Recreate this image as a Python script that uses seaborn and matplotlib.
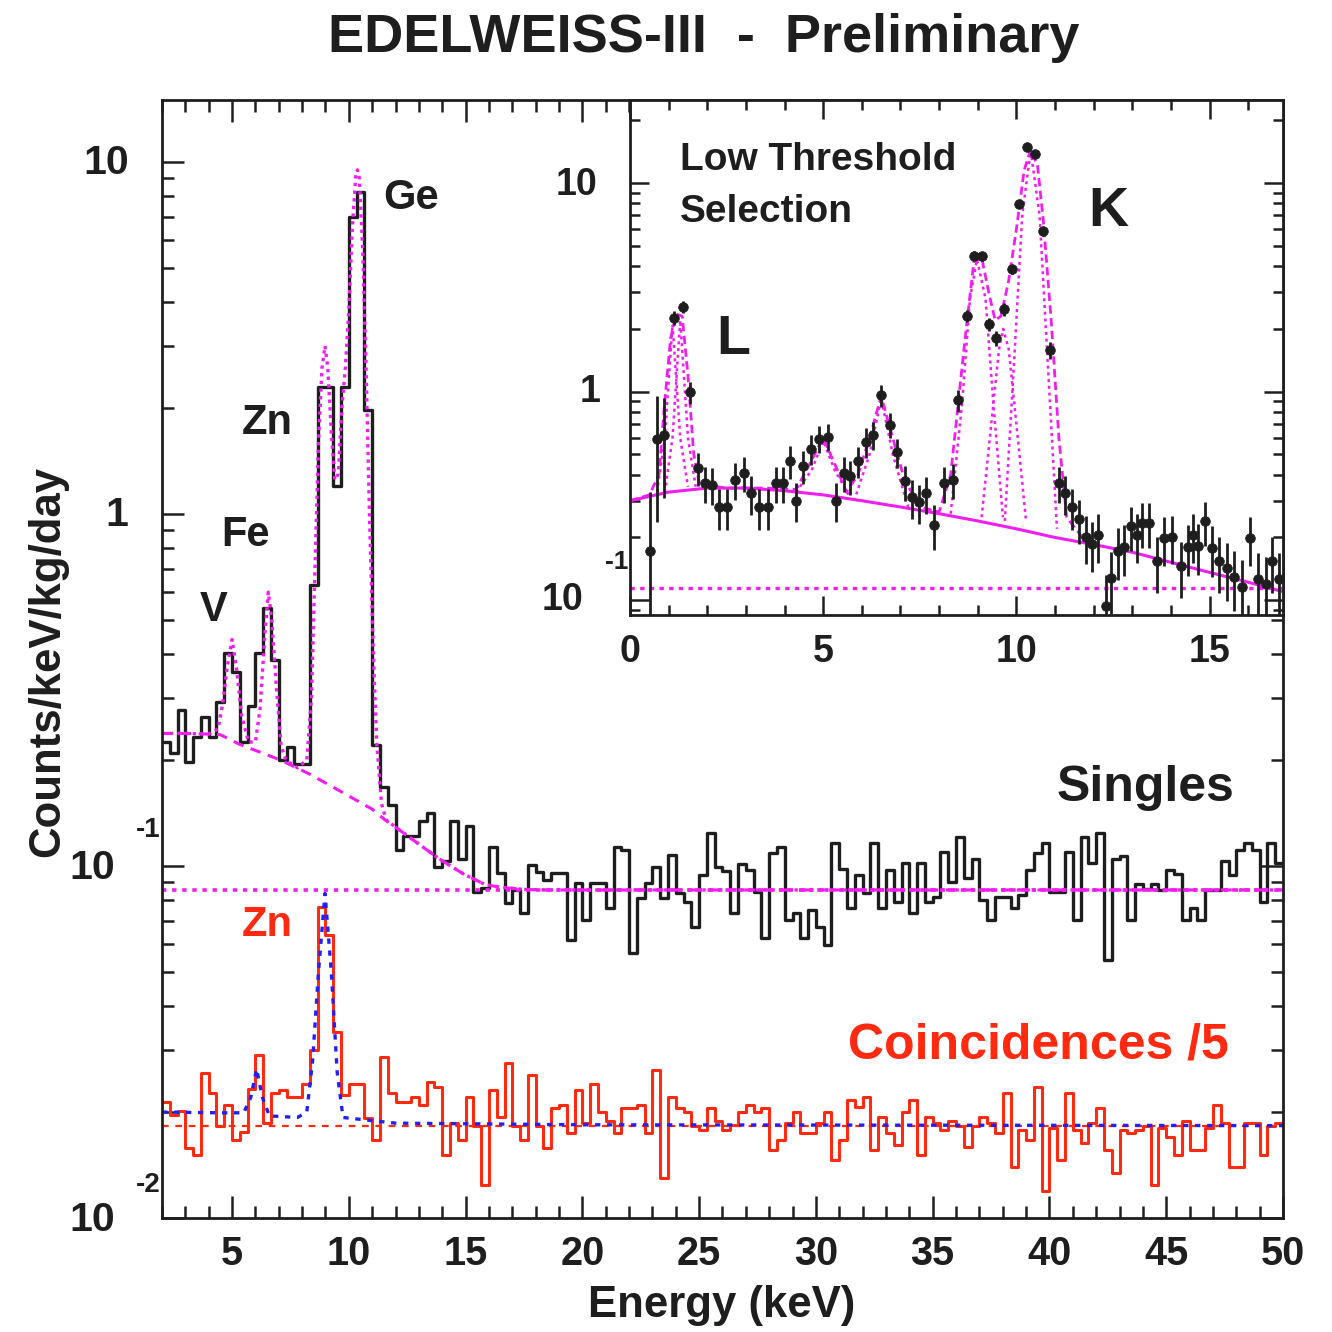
import numpy as np
import matplotlib
matplotlib.use("Agg")
import matplotlib.pyplot as plt
import seaborn as sns
from matplotlib.ticker import MultipleLocator, FixedLocator, LogLocator, NullFormatter

sns.set_style("ticks")
plt.rcParams['font.family'] = ['Liberation Sans', 'DejaVu Sans']
plt.rcParams['font.weight'] = 'bold'

# ---------------- data ----------------
E_MIN = 2.0          # keV, first bin edge of main spectra
BIN_W = 1.0 / 3.0    # keV bin width of main spectra

singles = [
    0.225, 0.21, 0.277, 0.198, 0.233, 0.265, 0.233, 0.293, 0.402, 0.356,
    0.225, 0.284, 0.402, 0.54, 0.385, 0.2, 0.218, 0.195, 0.195, 0.63,
    2.3, 2.3, 1.2, 2.3, 7.0, 8.2, 1.97, 0.221, 0.168, 0.149,
    0.111, 0.122, 0.122, 0.134, 0.141, 0.0995, 0.103, 0.134, 0.105, 0.13,
    0.0845, 0.0864, 0.113, 0.0953, 0.0783, 0.0855, 0.0734, 0.1006, 0.0964, 0.0913,
    0.0953, 0.0953, 0.0617, 0.0893, 0.0703, 0.0893, 0.0893, 0.0758, 0.113, 0.111,
    0.0565, 0.081, 0.0893, 0.0995, 0.081, 0.1074, 0.0836, 0.0792, 0.0673, 0.0943,
    0.1238, 0.0995, 0.097, 0.0734, 0.101, 0.0971, 0.0845, 0.0623, 0.1087, 0.1135,
    0.0703, 0.0734, 0.0623, 0.075, 0.0673, 0.0597, 0.116, 0.098, 0.0758, 0.0943,
    0.0836, 0.116, 0.0758, 0.0971, 0.0792, 0.1017, 0.0734, 0.1017, 0.0792, 0.0815,
    0.1098, 0.090, 0.121, 0.0925, 0.105, 0.080, 0.0703, 0.0815, 0.0815, 0.0758,
    0.0826, 0.0971, 0.1087, 0.116, 0.0845, 0.0845, 0.1098, 0.0703, 0.121, 0.1017,
    0.1238, 0.054, 0.105, 0.107, 0.0703, 0.089, 0.0863, 0.089, 0.0854, 0.0971,
    0.095, 0.0703, 0.0758, 0.0703, 0.0854, 0.0854, 0.103, 0.0943, 0.111, 0.116,
    0.111, 0.079, 0.116, 0.1017,
]

coincidences = [
    0.0214, 0.0196, 0.0201, 0.0158, 0.0151, 0.0258, 0.0226, 0.0182, 0.0209, 0.0167,
    0.0175, 0.0233, 0.029, 0.0186, 0.0226, 0.0231, 0.0221, 0.0221, 0.0241, 0.030,
    0.0766, 0.0637, 0.0338, 0.0223, 0.0241, 0.0241, 0.0192, 0.0167, 0.0287, 0.0226,
    0.0214, 0.0214, 0.0221, 0.0209, 0.0244, 0.0236, 0.0151, 0.0186, 0.0167, 0.0221,
    0.0182, 0.0124, 0.0231, 0.0194, 0.0275, 0.0182, 0.0167, 0.0255, 0.0182, 0.0158,
    0.0205, 0.0209, 0.0174, 0.0231, 0.0186, 0.0241, 0.0200, 0.0188, 0.0174, 0.0205,
    0.0205, 0.0209, 0.0174, 0.0263, 0.0130, 0.0221, 0.0205, 0.0200, 0.0182, 0.0178,
    0.0205, 0.0188, 0.0178, 0.0184, 0.0200, 0.0209, 0.0200, 0.0205, 0.0156, 0.0167,
    0.0186, 0.0200, 0.0174, 0.0174, 0.0186, 0.0200, 0.0146, 0.0167, 0.0217, 0.0207,
    0.0221, 0.0156, 0.0194, 0.0174, 0.0161, 0.0200, 0.0217, 0.0151, 0.0194, 0.0186,
    0.0178, 0.0188, 0.0182, 0.0159, 0.0182, 0.0194, 0.0186, 0.0174, 0.0226, 0.0140,
    0.0178, 0.0167, 0.0236, 0.0119, 0.0180, 0.0146, 0.0226, 0.0178, 0.0163, 0.0186,
    0.0205, 0.0156, 0.0134, 0.0178, 0.0174, 0.0178, 0.0182, 0.0124, 0.0180, 0.0170,
    0.0151, 0.0188, 0.0156, 0.0156, 0.0180, 0.0209, 0.0186, 0.0140, 0.0140, 0.0186,
    0.0186, 0.0151, 0.0182, 0.0186,
]

# singles fit: total (dotted), background (dashed), constant (dotted)
fit_tot_E = [2.0, 3.0, 4.0, 4.4, 4.6, 4.8, 5.0, 5.2, 5.4, 5.7,
             6.0, 6.2, 6.4, 6.55, 6.7, 6.9, 7.1, 7.3, 7.8, 8.2,
             8.4, 8.55, 8.7, 8.85, 8.98, 9.1, 9.25, 9.4, 9.55, 9.7,
             9.85, 10.0, 10.15, 10.3, 10.37, 10.45, 10.6, 10.75, 10.9, 11.05,
             11.2, 11.4, 11.6, 12.5, 13.85, 14.9, 15.84, 16.5, 17.5, 18.5, 50.0]
fit_tot_V = [0.238, 0.238, 0.237, 0.245, 0.29, 0.37, 0.44, 0.36, 0.27, 0.225,
             0.225, 0.28, 0.45, 0.6, 0.5, 0.32, 0.22, 0.2, 0.19, 0.2,
             0.3, 0.7, 1.6, 2.6, 3.0, 2.6, 1.7, 1.25, 1.3, 2.0,
             2.6, 3.8, 6.5, 9.2, 9.5, 9.0, 5.5, 2.4, 0.9, 0.4,
             0.22, 0.15, 0.135, 0.122, 0.105, 0.095, 0.0885, 0.087, 0.0858, 0.0855, 0.0855]
bg_E = [2.0, 3.0, 4.0, 4.5, 5.3, 6.0, 7.07, 8.28, 9.5, 11.0,
        11.56, 12.5, 13.85, 14.9, 15.84, 16.5, 17.5, 18.5, 50.0]
bg_V = [0.238, 0.238, 0.237, 0.236, 0.222, 0.213, 0.2, 0.183, 0.165, 0.145,
        0.135, 0.122, 0.105, 0.095, 0.0885, 0.087, 0.0858, 0.0855, 0.0855]
singles_flat = 0.0855

# coincidence fit (blue) and flat (red dashed)
co_fit_E = [2.0, 4.5, 5.5, 5.8, 6.05, 6.3, 6.6, 7.8, 8.2, 8.45,
            8.7, 8.98, 9.25, 9.5, 9.75, 12.0, 20.0, 50.0]
co_fit_V = [0.0200, 0.0199, 0.0199, 0.022, 0.0265, 0.022, 0.0195, 0.0193, 0.020, 0.028,
            0.05, 0.0836, 0.05, 0.026, 0.0193, 0.0186, 0.0184, 0.0183]
co_flat = 0.0183

# inset: low threshold selection (points with errors)
in_E = [0.53, 0.70, 0.87, 1.15, 1.37, 1.54, 1.77, 1.94, 2.13, 2.31,
        2.50, 2.72, 2.95, 3.12, 3.34, 3.57, 3.77, 3.96, 4.13, 4.30,
        4.47, 4.69, 4.89, 5.12, 5.33, 5.53, 5.70, 5.91, 6.10, 6.30,
        6.49, 6.72, 6.92, 7.11, 7.30, 7.48, 7.67, 7.86, 8.12, 8.35,
        8.49, 8.71, 8.91, 9.10, 9.30, 9.47, 9.67, 9.89, 10.07, 10.28,
        10.49, 10.68, 10.88, 11.11, 11.27, 11.44, 11.61, 11.80, 11.95, 12.12,
        12.32, 12.45, 12.62, 12.79, 12.96, 13.13, 13.24, 13.44, 13.64, 13.83,
        14.03, 14.26, 14.43, 14.57, 14.71, 14.88, 15.07, 15.25, 15.44, 15.63,
        15.83, 16.05, 16.26, 16.45, 16.62, 16.79]
in_V = [0.173, 0.596, 0.62, 2.26, 2.55, 0.997, 0.431, 0.364, 0.357, 0.279,
        0.279, 0.378, 0.408, 0.325, 0.279, 0.279, 0.364, 0.364, 0.466, 0.30,
        0.44, 0.532, 0.596, 0.608, 0.30, 0.408, 0.393, 0.466, 0.574, 0.62,
        0.96, 0.695, 0.513, 0.371, 0.312, 0.295, 0.325, 0.23, 0.364, 0.378,
        0.907, 2.31, 4.49, 4.46, 2.10, 1.80, 2.49, 3.86, 7.95, 14.9,
        13.8, 5.86, 1.58, 0.364, 0.325, 0.279, 0.244, 0.201, 0.187, 0.205,
        0.094, 0.128, 0.173, 0.18, 0.226, 0.205, 0.235, 0.235, 0.154, 0.198,
        0.201, 0.146, 0.18, 0.205, 0.182, 0.239, 0.178, 0.154, 0.143, 0.13,
        0.116, 0.198, 0.126, 0.12, 0.154, 0.126]
in_rel_err = [0.9, 0.6, 0.5, 0.08, 0.07, 0.12, 0.18, 0.2, 0.2, 0.22,
              0.22, 0.2, 0.19, 0.21, 0.22, 0.22, 0.2, 0.2, 0.18, 0.21,
              0.18, 0.16, 0.15, 0.15, 0.21, 0.19, 0.19, 0.17, 0.16, 0.15,
              0.12, 0.14, 0.16, 0.19, 0.21, 0.21, 0.2, 0.24, 0.2, 0.19,
              0.12, 0.07, 0.05, 0.05, 0.07, 0.08, 0.07, 0.05, 0.04, 0.03,
              0.03, 0.05, 0.09, 0.2, 0.21, 0.22, 0.24, 0.26, 0.27, 0.26,
              0.4, 0.33, 0.28, 0.27, 0.24, 0.26, 0.24, 0.24, 0.3, 0.26,
              0.26, 0.3, 0.27, 0.26, 0.27, 0.24, 0.27, 0.3, 0.31, 0.32,
              0.34, 0.26, 0.33, 0.34, 0.3, 0.33]

# inset fit curves
in_bg_E = [0.0, 1.0, 2.0, 3.0, 4.0, 5.0, 6.0, 7.0, 8.0, 9.0,
           10.0, 11.0, 12.0, 13.0, 14.0, 15.0, 16.0, 16.9]
in_bg_V = [0.30, 0.33, 0.345, 0.345, 0.335, 0.32, 0.30, 0.28, 0.26, 0.24,
           0.22, 0.20, 0.185, 0.17, 0.152, 0.136, 0.122, 0.11]
in_flat = 0.114
in_tot_E = [0.0, 0.5, 0.75, 0.9, 1.05, 1.2, 1.35, 1.5, 1.65, 1.8,
            2.5, 3.5, 4.3, 4.65, 5.0, 5.3, 5.6, 5.9, 6.2, 6.5,
            6.8, 7.1, 7.5, 8.0, 8.3, 8.5, 8.7, 8.9, 9.1, 9.3,
            9.45, 9.6, 9.8, 10.0, 10.2, 10.37, 10.55, 10.7, 10.9, 11.1,
            11.3, 11.8]
in_tot_V = [0.30, 0.32, 0.4, 0.9, 1.8, 2.35, 2.3, 1.2, 0.5, 0.36,
            0.345, 0.345, 0.34, 0.45, 0.6, 0.45, 0.33, 0.4, 0.6, 0.95,
            0.6, 0.38, 0.28, 0.265, 0.4, 0.9, 2.0, 4.2, 4.4, 2.9,
            2.2, 2.3, 3.4, 6.0, 11.5, 14.5, 12.0, 6.5, 2.2, 0.6,
            0.25, 0.19]
comp_L1_E = [0.7, 0.9, 1.1, 1.3, 1.5]
comp_L1_V = [0.33, 0.6, 2.1, 0.6, 0.35]
comp_L2_E = [0.9, 1.1, 1.3, 1.5, 1.7]
comp_L2_V = [0.33, 0.6, 2.2, 0.6, 0.35]
comp_V_E = [4.3, 4.7, 5.0, 5.3, 5.7]
comp_V_V = [0.33, 0.42, 0.58, 0.42, 0.31]
comp_Fe_E = [5.8, 6.2, 6.5, 6.8, 7.2]
comp_Fe_V = [0.30, 0.5, 0.93, 0.5, 0.28]
comp_Zn_E = [8.3, 8.6, 8.8, 8.98, 9.2, 9.4, 9.65]
comp_Zn_V = [0.26, 0.9, 2.8, 4.3, 2.8, 0.9, 0.25]
comp_Ga_E = [9.1, 9.35, 9.55, 9.66, 9.8, 10.0, 10.25]
comp_Ga_V = [0.25, 0.7, 1.6, 2.0, 1.6, 0.7, 0.24]
comp_Ge_E = [9.7, 9.95, 10.15, 10.37, 10.6, 10.8, 11.05]
comp_Ge_V = [0.24, 1.5, 7.0, 14.3, 7.0, 1.5, 0.22]

# ---------------- figure ----------------
W = H = 1332
fig = plt.figure(figsize=(13.32, 13.32), dpi=100)
fig.patch.set_facecolor('white')


def rect(l, t, r, b):
    return [l / W, 1 - b / H, (r - l) / W, (b - t) / H]


def ftext(x, y, s, **kw):
    fig.text(x / W, 1 - y / H, s, ha=kw.pop('ha', 'center'), va=kw.pop('va', 'center'), **kw)


MAG = '#f01ef0'
RED = '#ff2a10'
BLUE = '#2020ff'
INK = '#1e1e1e'

ax = fig.add_axes(rect(162, 100, 1283, 1218))
ax.set_yscale('log')

edges = E_MIN + np.arange(len(singles) + 1) * BIN_W
sns.lineplot(x=edges, y=np.append(singles, singles[-1]), drawstyle='steps-post',
             color=INK, lw=2.4, ax=ax, estimator=None, sort=False)
edges_c = E_MIN + np.arange(len(coincidences) + 1) * BIN_W
sns.lineplot(x=edges_c, y=np.append(coincidences, coincidences[-1]), drawstyle='steps-post',
             color=RED, lw=2.2, ax=ax, estimator=None, sort=False)

sns.lineplot(x=[E_MIN, 50], y=[singles_flat, singles_flat], color=MAG, lw=2.6,
             linestyle=(0, (1.2, 1.6)), ax=ax, estimator=None)
sns.lineplot(x=bg_E, y=bg_V, color=MAG, lw=2.2, linestyle=(0, (3.5, 2.5)), ax=ax,
             estimator=None, sort=False)
sns.lineplot(x=fit_tot_E, y=fit_tot_V, color=MAG, lw=2.4, linestyle=(0, (1.0, 1.3)), ax=ax,
             estimator=None, sort=False)
sns.lineplot(x=[E_MIN, 50], y=[co_flat, co_flat], color=RED, lw=1.6,
             linestyle=(0, (3, 3)), ax=ax, estimator=None)
sns.lineplot(x=co_fit_E, y=co_fit_V, color=BLUE, lw=2.4, linestyle=(0, (1.6, 2.0)), ax=ax,
             estimator=None, sort=False)

ax.set_xlim(2, 50)
ax.set_ylim(0.01, 15)
ax.set_xlabel('')
ax.set_ylabel('')
ax.xaxis.set_major_locator(FixedLocator([5, 10, 15, 20, 25, 30, 35, 40, 45, 50]))
ax.xaxis.set_minor_locator(MultipleLocator(1))
ax.yaxis.set_major_locator(FixedLocator([0.01, 0.1, 1, 10]))
ax.yaxis.set_minor_locator(LogLocator(base=10, subs=np.arange(2, 10)))
ax.yaxis.set_major_formatter(NullFormatter())
ax.yaxis.set_minor_formatter(NullFormatter())
ax.tick_params(which='both', direction='in', top=True, right=True, width=1.8, color=INK)
ax.tick_params(which='major', length=16)
ax.tick_params(which='minor', length=8.5)
ax.tick_params(axis='x', which='major', labelsize=28.5, pad=12, labelcolor=INK)
for lab in ax.get_xticklabels():
    lab.set_fontweight('bold')
for sp in ax.spines.values():
    sp.set_linewidth(2.0)
    sp.set_color(INK)
    sp.set_visible(True)

# main y tick labels (ROOT style)
ftext(106, 163, '10', fontsize=29.5, color=INK)
ftext(117, 515, '1', fontsize=29.5, color=INK)
ftext(92, 868, '10', fontsize=29.5, color=INK)
ftext(148, 830, '-1', fontsize=20, color=INK)
ftext(92, 1220, '10', fontsize=29.5, color=INK)
ftext(148, 1185, '-2', fontsize=20, color=INK)

# labels
ftext(704, 38, 'EDELWEISS-III  -  Preliminary', fontsize=39, color=INK)
ftext(48, 661, 'Counts/keV/kg/day', fontsize=31.5, rotation=90, color=INK)
ftext(722, 1306, 'Energy (keV)', fontsize=31.5, color=INK)
ftext(411, 198, 'Ge', fontsize=30, color=INK)
ftext(267, 423, 'Zn', fontsize=30, color=INK)
ftext(246, 535, 'Fe', fontsize=30, color=INK)
ftext(214, 610, 'V', fontsize=30, color=INK)
ftext(1145, 788, 'Singles', fontsize=36, color=INK)
ftext(267, 925, 'Zn', fontsize=30, color=RED)
ftext(1038, 1045, 'Coincidences /5', fontsize=36, color=RED)

# ---------------- inset ----------------
axin = fig.add_axes(rect(630, 100, 1283, 615))
axin.set_facecolor('white')
axin.set_yscale('log')

sns.lineplot(x=[0, 16.9], y=[in_flat, in_flat], color=MAG, lw=2.4,
             linestyle=(0, (1.3, 1.6)), ax=axin, estimator=None)
sns.lineplot(x=in_bg_E, y=in_bg_V, color=MAG, lw=2.2, ax=axin, estimator=None, sort=False)
for ce, cv in [(comp_L1_E, comp_L1_V), (comp_L2_E, comp_L2_V), (comp_V_E, comp_V_V),
               (comp_Fe_E, comp_Fe_V), (comp_Zn_E, comp_Zn_V), (comp_Ga_E, comp_Ga_V),
               (comp_Ge_E, comp_Ge_V)]:
    sns.lineplot(x=ce, y=cv, color=MAG, lw=1.8, linestyle=(0, (1.2, 1.5)), ax=axin,
                 estimator=None, sort=False)
sns.lineplot(x=in_tot_E, y=in_tot_V, color=MAG, lw=2.0, linestyle=(0, (3.0, 1.6)), ax=axin,
             estimator=None, sort=False)

in_V_arr = np.array(in_V)
in_err = in_V_arr * np.array(in_rel_err)
axin.errorbar(in_E, in_V, yerr=[np.minimum(in_err, in_V_arr * 0.95), in_err], xerr=0.08,
              fmt='none', ecolor=INK, elinewidth=2.0, capsize=0)
sns.scatterplot(x=in_E, y=in_V, color=INK, s=48, edgecolor=INK, ax=axin, zorder=5)

axin.set_xlim(0, 16.9)
axin.set_ylim(0.085, 25)
axin.set_xlabel('')
axin.set_ylabel('')
axin.xaxis.set_major_locator(FixedLocator([0, 5, 10, 15]))
axin.xaxis.set_minor_locator(MultipleLocator(1))
axin.yaxis.set_major_locator(FixedLocator([0.1, 1, 10]))
axin.yaxis.set_minor_locator(LogLocator(base=10, subs=np.arange(2, 10)))
axin.yaxis.set_major_formatter(NullFormatter())
axin.yaxis.set_minor_formatter(NullFormatter())
axin.tick_params(which='both', direction='in', top=True, right=True, width=1.8, color=INK)
axin.tick_params(which='major', length=14)
axin.tick_params(which='minor', length=7.5)
axin.tick_params(axis='x', which='major', labelsize=27, pad=14, labelcolor=INK)
for lab in axin.get_xticklabels():
    lab.set_fontweight('bold')
for sp in axin.spines.values():
    sp.set_linewidth(2.0)
    sp.set_color(INK)
    sp.set_visible(True)

ftext(577, 185, '10', fontsize=27, color=INK)
ftext(590, 392, '1', fontsize=27, color=INK)
ftext(562, 600, '10', fontsize=27, color=INK)
ftext(617, 562, '-1', fontsize=19, color=INK)
ftext(680, 160, 'Low Threshold', fontsize=28, ha='left', color=INK)
ftext(680, 212, 'Selection', fontsize=28, ha='left', color=INK)
ftext(733, 340, 'L', fontsize=40, color=INK)
ftext(1108, 212, 'K', fontsize=40, color=INK)

fig.savefig('out.png', dpi=100, facecolor='white')
